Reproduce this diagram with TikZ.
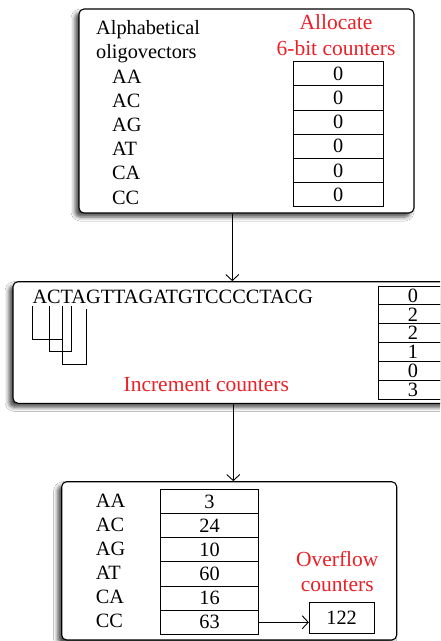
\documentclass[tikz,border=0pt]{standalone}
\usepackage{fontspec}
\setmainfont{Liberation Serif}
\usetikzlibrary{arrows.meta,shadows.blur}
\definecolor{redtxt}{RGB}{236,32,40}
\begin{document}
\begin{tikzpicture}[x=1pt,y=-1pt,
  every node/.style={font=\fontsize{20.3}{24}\selectfont, inner sep=0pt},
  panel/.style={draw, line width=1.1pt, rounded corners=5pt, fill=white,
    blur shadow={shadow xshift=-4pt, shadow yshift=-4pt, shadow blur radius=4pt, shadow opacity=70}},
  cellA/.style={draw, line width=0.9pt, minimum width=90pt, minimum height=24.17pt},
  cellB/.style={draw, line width=0.9pt, minimum width=70pt, minimum height=18.9pt},
  cellC/.style={draw, line width=0.9pt, minimum width=97.6pt, minimum height=24.17pt},
  lbl/.style={anchor=base west},
  redlbl/.style={anchor=base, text=redtxt, font=\fontsize{21.5}{25}\selectfont},
  flow/.style={line width=0.9pt, -{Straight Barb[length=6pt,width=13pt]}},
  brk/.style={line width=0.9pt}
]
\useasboundingbox (0,0) rectangle (440,641);
\clip (0,0) rectangle (440,641);
\fill[white] (0,0) rectangle (440,641);

% panels
\node[panel, minimum width=335pt, minimum height=204pt] (box1) at (246.5,111) {};
\node[panel, minimum width=437pt, minimum height=121.6pt] (box2) at (231.5,342.5) {};
\node[panel, minimum width=335pt, minimum height=158.3pt] (box3) at (229.2,560.85) {};

% panel 1
\node[lbl] (t1) at (96,34) {Alphabetical};
\node[lbl] (t2) at (96,58) {oligovectors};
\node[redlbl] (r1) at (336,29.3) {Allocate};
\node[redlbl] (r2) at (336,55) {6-bit counters};
\foreach \n/\s [count=\i from 0] in {AA/AA,AC/AC,AG/AG,AT/AT,CA/CA,CC/CC} {
  \node[lbl] (l1\n) at (112,83.3+24.17*\i) {\s};
  \node[cellA] (c1\n) at (338.3,73.78+24.17*\i) {0};
}

% panel 2
\node[lbl] (seq) at (32.3,303.3) {ACTAGTTAGATGTCCCCTACG};
\foreach \v [count=\i from 0] in {0,2,2,1,0,3} {
  \node[cellB] (c2\i) at (413,295.45+18.9*\i) {\v};
}
\node[redlbl] (r3) at (206.3,391.7) {Increment counters};
\draw[brk] (32.3,306) -- (32.3,339) -- (62.3,339);
\draw[brk] (49,306) -- (49,351.7) -- (71.7,351.7) -- (71.7,306);
\draw[brk] (62.3,306) -- (62.3,364.3) -- (86.7,364.3) -- (86.7,309);

% panel 3
\foreach \n/\v [count=\i from 0] in {AA/3,AC/24,AG/10,AT/60,CA/16,CC/63} {
  \node[lbl] (l3\n) at (95.7,507.7+23.95*\i) {\n};
  \node[cellC] (c3\n) at (209.5,501.4+24.17*\i) {\v};
}
\node[redlbl] (r4) at (337.3,566) {Overflow};
\node[redlbl] (r5) at (337.3,591.7) {counters};
\node[draw, line width=0.9pt, minimum width=64.7pt, minimum height=30.6pt] (ov) at (341.65,618) {122};

% connectors
\coordinate (ax1) at (232.3,0);
\coordinate (ax2) at (233.3,0);
\draw[flow] (box1.south -| ax1) -- (box2.north -| ax1);
\draw[flow] (box2.south -| ax2) -- (box3.north -| ax2);
\draw[flow] (c3CC.east) -- (c3CC.east -| ov.west);
\end{tikzpicture}
\end{document}
